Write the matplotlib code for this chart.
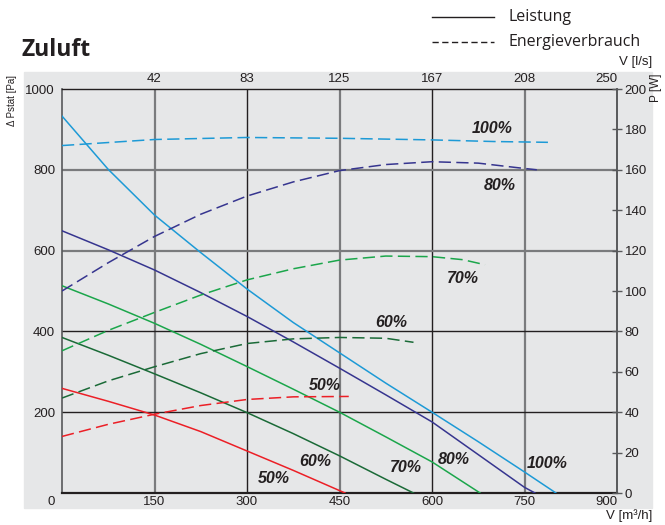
import matplotlib
matplotlib.use("Agg")
import matplotlib.pyplot as plt
from matplotlib.patches import Rectangle
from matplotlib.lines import Line2D

# --- data ---------------------------------------------------------------
# solid curves: static pressure [Pa] vs flow [m3/h]
p100_x = [0, 75, 150, 225, 300, 375, 450, 525, 600, 675, 750, 801]
p100_y = [933, 801, 688, 595, 505, 422, 347, 272, 200, 127, 52, 0]
p80_x = [0, 75, 150, 225, 300, 375, 450, 525, 600, 675, 750, 767]
p80_y = [649, 602, 552, 496, 437, 374, 309, 243, 176, 95, 14, 0]
p70_x = [0, 75, 150, 225, 300, 375, 450, 525, 600, 678]
p70_y = [513, 468, 420, 368, 313, 257, 200, 139, 77, 0]
p60_x = [0, 75, 150, 225, 300, 375, 450, 525, 570]
p60_y = [385, 341, 295, 248, 199, 147, 92, 34, 0]
p50_x = [0, 75, 150, 225, 300, 375, 459]
p50_y = [259, 227, 193, 152, 104, 56, 0]

# dashed curves: power [W] vs flow [m3/h]
w100_x = [0, 150, 300, 450, 600, 700, 788]
w100_y = [172, 175, 176, 175.6, 174.8, 174, 173.6]
w80_x = [0, 75, 150, 225, 300, 375, 450, 525, 600, 675, 740, 770]
w80_y = [100, 114, 127, 138, 147, 154, 159.6, 162.6, 164, 163.3, 161, 160]
w70_x = [0, 75, 150, 225, 300, 375, 450, 525, 600, 650, 686]
w70_y = [70.4, 80.5, 89.4, 98, 105.5, 111, 115.3, 117.3, 117, 115.5, 113]
w60_x = [0, 75, 150, 225, 300, 375, 450, 525, 570]
w60_y = [47, 55.5, 62.5, 69, 74, 76.3, 77, 76.6, 74.6]
w50_x = [0, 75, 150, 225, 300, 375, 465]
w50_y = [28, 34, 39, 43.3, 46.3, 47.6, 47.8]

speeds = ["100%", "80%", "70%", "60%", "50%"]
colors = ["#1d9ad6", "#36358f", "#1ba64b", "#1a6a37", "#ec1f26"]
pressure = [(p100_x, p100_y), (p80_x, p80_y), (p70_x, p70_y),
            (p60_x, p60_y), (p50_x, p50_y)]
power = [(w100_x, w100_y), (w80_x, w80_y), (w70_x, w70_y),
         (w60_x, w60_y), (w50_x, w50_y)]

# label positions (x in m3/h, y in Pa)
pres_lbl = [(787, 74), (635, 84), (558, 62), (410, 77), (344, 35)]
pow_lbl = [(698, 903), (710, 762), (650, 532), (534, 423), (426, 265)]

x_ticks = [150, 300, 450, 600, 750, 900]
ls_labels = ["42", "83", "125", "167", "208", "250"]
pa_ticks = [200, 400, 600, 800, 1000]
w_ticks = list(range(0, 201, 20))

TXT = "#231f20"
GRAY = "#7a7b7d"
TICKFONT = "Liberation Sans"

fig = plt.figure(figsize=(6.65, 5.25), dpi=100)
W, H = 665, 525
fig.patches.append(Rectangle((24 / W, 1 - 508 / H), 628 / W, 436 / H,
                             transform=fig.transFigure, color="#e6e7e8",
                             zorder=-5))

ax = fig.add_axes([62 / W, 1 - 493 / H, 555 / W, 404 / H])
ax.set_facecolor("#e6e7e8")
ax.set_xlim(0, 900)
ax.set_ylim(0, 1000)

# grid
for i, xv in enumerate(x_ticks[:-1]):
    if i % 2 == 0:
        ax.axvline(xv, color=GRAY, lw=1.6, zorder=1)
    else:
        ax.axvline(xv, color=TXT, lw=1.0, zorder=1)
for yv in pa_ticks[:-1]:
    if yv <= 400:
        ax.axhline(yv, color=TXT, lw=1.0, zorder=1)
    else:
        ax.axhline(yv, color=GRAY, lw=1.6, zorder=1)

for (x, y), c in zip(pressure, colors):
    ax.plot(x, y, color=c, lw=1.1, zorder=3)

for sp in ["left", "right"]:
    ax.spines[sp].set_color("#58595b")
    ax.spines[sp].set_linewidth(1.2)
ax.spines["top"].set_color(TXT)
ax.spines["top"].set_linewidth(1.0)
ax.spines["bottom"].set_color(TXT)
ax.spines["bottom"].set_linewidth(1.6)

ax.set_xticks([])
ax.set_yticks(pa_ticks)
ax.set_yticklabels([str(v) for v in pa_ticks], fontfamily=TICKFONT,
                   fontsize=9.5, color=TXT)
ax.tick_params(axis="y", length=0, pad=5)

# bottom / top flow labels
xtr = ax.get_xaxis_transform()
for xv, lab in zip(x_ticks, ls_labels):
    ha = "right" if xv == 900 else "center"
    ax.annotate(str(xv), (xv, 0), xycoords=xtr, xytext=(0, -9),
                textcoords="offset pixels", ha=ha, va="center",
                fontfamily=TICKFONT, fontsize=9.5, color=TXT)
    ax.annotate(lab, (xv, 1), xycoords=xtr, xytext=(0, 10),
                textcoords="offset pixels", ha=ha, va="center",
                fontfamily=TICKFONT, fontsize=9.5, color=TXT)
ax.annotate("0", (0, 0), xycoords="axes fraction", xytext=(-7, -9),
            textcoords="offset pixels", ha="right", va="center",
            fontfamily=TICKFONT, fontsize=9.5, color=TXT)

# right axis: power
ax2 = ax.twinx()
ax2.set_ylim(0, 200)
ax2.set_xlim(0, 900)
for (x, y), c in zip(power, colors):
    ax2.plot(x, y, color=c, lw=1.1, ls=(0, (8, 3.5)), zorder=3)
for sp in ["left", "top", "bottom"]:
    ax2.spines[sp].set_visible(False)
ax2.spines["right"].set_color("#58595b")
ax2.spines["right"].set_linewidth(1.2)
ax2.set_yticks(w_ticks)
ax2.set_yticklabels([str(v) for v in w_ticks], fontfamily=TICKFONT,
                    fontsize=9.5, color=TXT)
ax2.tick_params(axis="y", direction="inout", length=7, width=1.0,
                color="#58595b", pad=2)

for (lx, ly), s in zip(pres_lbl + pow_lbl, speeds + speeds):
    ax.text(lx, ly, s, ha="center", va="center", fontfamily=TICKFONT,
            fontsize=11.5, fontweight="bold", fontstyle="italic", color=TXT,
            zorder=5)

# axis titles
fig.text(12 / W, 1 - 101 / H, "\u0394 Pstat [Pa]", rotation=90, ha="center",
         va="center", fontfamily=TICKFONT, fontsize=7, color=TXT)
fig.text(656 / W, 1 - 88 / H, "P [W]", rotation=90, ha="center",
         va="center", fontfamily=TICKFONT, fontsize=8.5, color=TXT)
fig.text(652 / W, 1 - 62 / H, "V [l/s]", ha="right", va="center",
         fontfamily=TICKFONT, fontsize=9.5, color=TXT)
fig.text(652 / W, 1 - 516 / H, "V [m\u00b3/h]", ha="right", va="center",
         fontfamily=TICKFONT, fontsize=9.5, color=TXT)

fig.text(22 / W, 1 - 50 / H, "Zuluft", ha="left", va="center",
         fontfamily="Open Sans", fontweight="bold", fontsize=16.5, color=TXT)

# legend
fig.add_artist(Line2D([432 / W, 494 / W], [1 - 17 / H] * 2, color=TXT,
                      lw=1.0, transform=fig.transFigure))
fig.add_artist(Line2D([432 / W, 494 / W], [1 - 42 / H] * 2, color=TXT,
                      lw=1.0, ls=(0, (4.5, 2.5)), transform=fig.transFigure))
fig.text(509 / W, 1 - 17 / H, "Leistung", ha="left", va="center",
         fontfamily="Open Sans", fontsize=11.5, color=TXT)
fig.text(509 / W, 1 - 42 / H, "Energieverbrauch", ha="left", va="center",
         fontfamily="Open Sans", fontsize=11.5, color=TXT)

fig.savefig("out.png", dpi=100)
